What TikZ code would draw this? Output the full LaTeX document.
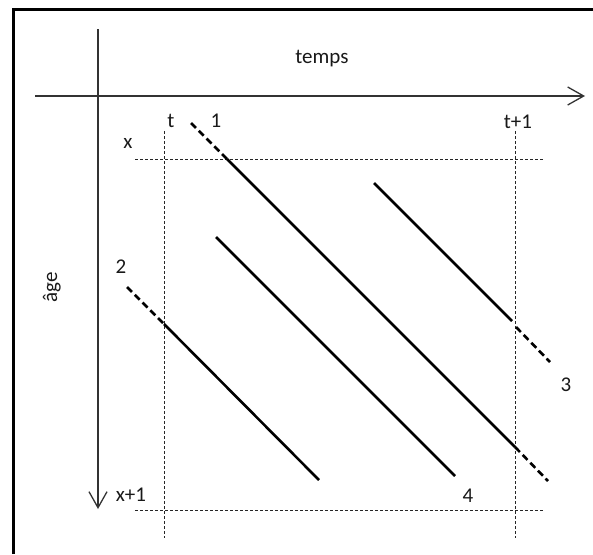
\documentclass[tikz,border=0pt]{standalone}
\usepackage{fontspec}
\setmainfont{Carlito}
\usetikzlibrary{arrows.meta}
\begin{document}
\begin{tikzpicture}[x=1pt,y=-1pt,
  lbl/.style={font=\fontsize{21}{24}\selectfont, text=black!90, inner sep=0pt, anchor=base},
  axis/.style={line width=1.3pt, draw=black!80, -{Straight Barb[length=16pt,width=18pt,line width=1.3pt]}},
  guide/.style={line width=0.9pt, draw=black!85, dash pattern=on 3pt off 2pt},
  life/.style={line width=2.6pt, draw=black},
  lifedash/.style={line width=2.6pt, draw=black, dash pattern=on 7pt off 4pt},
  frame/.style={line width=3pt, draw=black}]
\useasboundingbox (0,0) rectangle (593,554);
% frame
\coordinate (fTL) at (13,9);
\coordinate (fTR) at (593,9);
\coordinate (fBL) at (13,554);
\draw[frame] (fBL) -- (fTL) -- (fTR);
% axes
\coordinate (hA) at (35,96);
\coordinate (hB) at (585,96);
\coordinate (vA) at (98,29);
\coordinate (vB) at (98,509);
\draw[axis] (hA) -- (hB);
\draw[axis] (vA) -- (vB);
% guide lines
\coordinate (g1a) at (164,131); \coordinate (g1b) at (164,538);
\coordinate (g2a) at (515,131); \coordinate (g2b) at (515,538);
\coordinate (g3a) at (135,159); \coordinate (g3b) at (543,159);
\coordinate (g4a) at (135,510); \coordinate (g4b) at (543,510);
\draw[guide] (g1a) -- (g1b);
\draw[guide] (g2a) -- (g2b);
\draw[guide] (g3a) -- (g3b);
\draw[guide] (g4a) -- (g4b);
% life line 1
\coordinate (l1a) at (191,123);
\coordinate (l1b) at (227,159);
\coordinate (l1c) at (515,447);
\coordinate (l1d) at (548,481);
\draw[lifedash] (l1a) -- (l1b);
\draw[life] (l1b) -- (l1c);
\draw[lifedash] (l1c) -- (l1d);
% life line 2
\coordinate (l2a) at (127,287);
\coordinate (l2b) at (164,324);
\coordinate (l2c) at (319,480);
\draw[lifedash] (l2a) -- (l2b);
\draw[life] (l2b) -- (l2c);
% life line 3
\coordinate (l3a) at (374,183);
\coordinate (l3b) at (512,321);
\coordinate (l3c) at (516,327);
\coordinate (l3d) at (550,362);
\draw[life] (l3a) -- (l3b);
\draw[lifedash] (l3c) -- (l3d);
% life line 4
\coordinate (l4a) at (216,237);
\coordinate (l4b) at (455,476);
\draw[life] (l4a) -- (l4b);
% labels
\node[lbl] (temps) at (322,63) {temps};
\node[lbl, rotate=90] (age) at (57,287) {âge};
\node[lbl] (t) at (171,127) {t};
\node[lbl] (n1) at (216,127) {1};
\node[lbl] (t1) at (518,128) {t+1};
\node[lbl] (x) at (128,148) {x};
\node[lbl] (x1) at (131,501) {x+1};
\node[lbl] (n2) at (121,273) {2};
\node[lbl] (n3) at (566,391) {3};
\node[lbl] (n4) at (468,502) {4};
\end{tikzpicture}
\end{document}
